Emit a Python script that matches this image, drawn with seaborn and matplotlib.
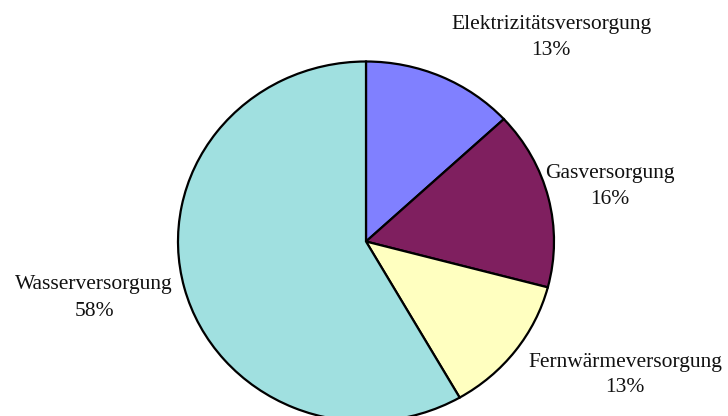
import matplotlib
matplotlib.use('Agg')
import matplotlib.pyplot as plt
import seaborn as sns

sns.set_theme(style='white')
plt.rcParams['font.family'] = ['Liberation Serif', 'DejaVu Serif']

# shares of the supply sectors (percent, estimated from the wedges)
labels = ['Elektrizitätsversorgung', 'Gasversorgung', 'Fernwärmeversorgung', 'Wasserversorgung']
shares = [13.1, 16.0, 12.6, 58.3]
colors = ['#8080FF', '#7F1F5F', '#FFFFC0', '#A0E0E0']

# label anchor positions in pixels (x, y from top)
label_pos = [(551, 37), (610, 186), (625, 375), (94, 298)]

W, H = 728, 416
# the pie in the reference is slightly squashed vertically
squash = 180 / 188
fig = plt.figure(figsize=(W / 100, H / 100), dpi=100)
ax = fig.add_axes([0, 0, 1, 1])
ax.axis('off')

ax.pie(shares, colors=colors, startangle=90, counterclock=False,
       center=(366, (H - 241.5) / squash), radius=188,
       wedgeprops=dict(edgecolor='black', linewidth=1.6))
ax.set_aspect('auto')
ax.set_xlim(0, W)
ax.set_ylim(0, H / squash)

for lab, val, (x, y) in zip(labels, shares, label_pos):
    ax.text(x, (H - y) / squash, f'{lab}\n{round(val)}%', ha='center', va='center',
            fontsize=15.5, color='#111111', linespacing=1.5)

fig.savefig('out.png', dpi=100)
